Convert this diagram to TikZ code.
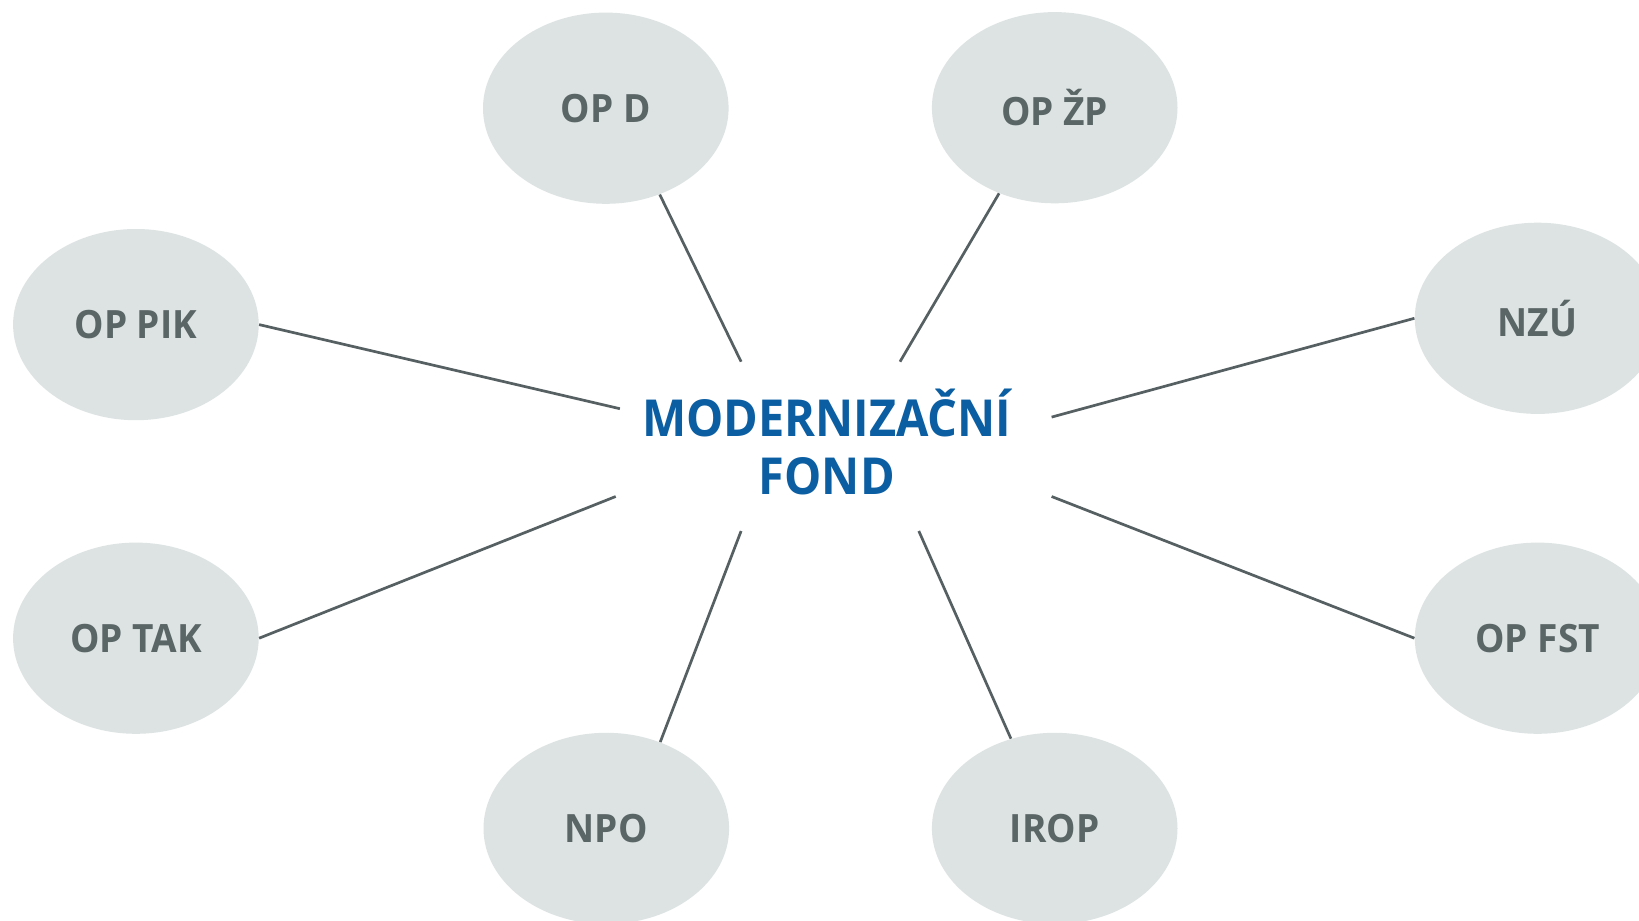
\documentclass[tikz,border=0pt]{standalone}
\usepackage{fontspec}
\setmainfont{Open Sans}
\newfontfamily\labfont[FakeStretch=0.95]{Open Sans}
\newfontfamily\hubfont[FakeStretch=0.92]{Open Sans}
\usetikzlibrary{shapes.geometric}
\definecolor{ellfill}{HTML}{DDE3E3}
\definecolor{labgray}{HTML}{5A6566}
\definecolor{fondblue}{HTML}{0B5EA2}
\definecolor{linegray}{HTML}{566062}
\tikzset{
  bubble/.style={ellipse, fill=ellfill, draw=none, minimum width=122.8pt, minimum height=95.6pt, inner sep=0pt,
    text=labgray, font=\labfont\fontsize{19.5}{23}\selectfont\bfseries},
  spoke/.style={draw=linegray, line width=1.35pt},
  hub/.style={text=fondblue, align=center, font=\hubfont\fontsize{25.5}{29}\selectfont\bfseries, inner sep=0pt}
}
\begin{document}
\begin{tikzpicture}[x=0.5pt, y=-0.5pt]
\useasboundingbox (0,0) rectangle (1639,921);
\clip (0,0) rectangle (1639,921);
\fill[white] (0,0) rectangle (1639,921);
\node[bubble] (opd) at (605.8,108.2) {OP D};
\node[bubble] (opzp) at (1054.7,107.7) {OP ŽP};
\node[bubble] (oppik) at (135.9,324.6) {OP PIK};
\node[bubble] (nzu) at (1537.6,318.3) {NZÚ};
\node[bubble] (optak) at (135.9,638.2) {OP TAK};
\node[bubble] (opfst) at (1537.6,638.2) {OP FST};
\node[bubble] (npo) at (606.3,828.4) {NPO};
\node[bubble] (irop) at (1054.7,828.4) {IROP};
\node[hub] (mf) at (826.8,441.5) {MODERNIZAČNÍ\\FOND};
\coordinate (copd) at (741.1,361.7);
\coordinate (copzp) at (900,361.7);
\coordinate (coppik) at (619.9,408.7);
\coordinate (cnzu) at (1051.6,417.1);
\coordinate (coptak) at (615.7,496.5);
\coordinate (copfst) at (1051.6,496.5);
\coordinate (cnpo) at (741.1,531);
\coordinate (cirop) at (918.8,531);
\draw[spoke] (opd.-58.7) -- (copd);
\draw[spoke] (opzp.-123) -- (copzp);
\draw[spoke] (oppik.east) -- (coppik);
\draw[spoke] (nzu.west) -- (cnzu);
\draw[spoke] (optak.east) -- (coptak);
\draw[spoke] (opfst.west) -- (copfst);
\draw[spoke] (npo.58) -- (cnpo);
\draw[spoke] (irop.116) -- (cirop);
\end{tikzpicture}
\end{document}
